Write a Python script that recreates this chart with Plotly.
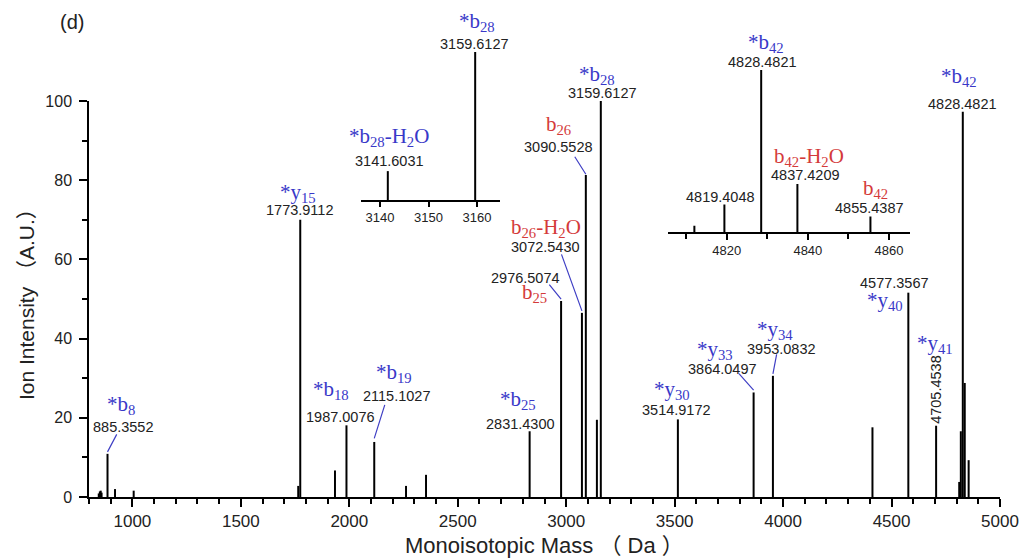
import plotly.graph_objects as go

# ---------------- data ----------------
peak_mass = [845.0, 850.0, 854.0, 858.0, 885.3552, 920.0, 1006.0, 1764.6, 1773.9112,
             1934.0, 1987.0076, 2115.1027, 2261.6, 2353.8, 2831.4300, 2976.5074,
             3072.5430, 3090.5528, 3141.6031, 3159.6127, 3514.9172, 3864.0497,
             3953.0832, 4412.0, 4577.3567, 4705.4538, 4812.0, 4819.4048, 4828.4821,
             4837.4209, 4855.4387]
peak_intensity = [0.9, 1.4, 1.6, 1.1, 10.9, 2.0, 1.6, 2.8, 70.0,
                  6.7, 18.1, 13.9, 2.8, 5.6, 16.6, 49.5,
                  46.5, 81.3, 19.5, 100.0, 19.6, 26.4,
                  30.6, 17.6, 51.6, 18.0, 3.8, 16.6, 97.3,
                  28.8, 9.3]

x_ticks_main = [1000, 1500, 2000, 2500, 3000, 3500, 4000, 4500, 5000]
y_ticks_main = [0, 20, 40, 60, 80, 100]
x_ticks_inset1 = [3140, 3150, 3160]
x_ticks_inset2 = [4820, 4840, 4860]

# labelled peaks
label_mass = [885.3552, 1773.9112, 1987.0076, 2115.1027, 2831.4300, 2976.5074,
              3072.5430, 3090.5528, 3159.6127, 3514.9172, 3864.0497, 3953.0832,
              4577.3567, 4705.4538, 4828.4821]
label_ion = ["*b<sub>8</sub>", "*y<sub>15</sub>", "*b<sub>18</sub>", "*b<sub>19</sub>",
             "*b<sub>25</sub>", "b<sub>25</sub>", "b<sub>26</sub>-H<sub>2</sub>O",
             "b<sub>26</sub>", "*b<sub>28</sub>", "*y<sub>30</sub>", "*y<sub>33</sub>",
             "*y<sub>34</sub>", "*y<sub>40</sub>", "*y<sub>41</sub>", "*b<sub>42</sub>"]
label_kind = ["b", "b", "b", "b", "b", "r", "r", "r", "b", "b", "b", "b", "b", "b", "b"]
label_text = ["885.3552", "1773.9112", "1987.0076", "2115.1027", "2831.4300", "2976.5074",
              "3072.5430", "3090.5528", "3159.6127", "3514.9172", "3864.0497", "3953.0832",
              "4577.3567", "4705.4538", "4828.4821"]

inset1_mass = [3141.6031, 3159.6127]
inset1_ion = ["*b<sub>28</sub>-H<sub>2</sub>O", "*b<sub>28</sub>"]
inset1_kind = ["b", "b"]
inset1_text = ["3141.6031", "3159.6127"]

inset2_mass = [4819.4048, 4828.4821, 4837.4209, 4855.4387]
inset2_ion = ["", "*b<sub>42</sub>", "b<sub>42</sub>-H<sub>2</sub>O", "b<sub>42</sub>"]
inset2_kind = ["b", "b", "r", "r"]
inset2_text = ["4819.4048", "4828.4821", "4837.4209", "4855.4387"]

# ---------------- layout / style (pixel offsets of labels from peak tops) ----------------
main_offsets = [  # (ion dx, ion dy, mass dx, mass dy)
    (13, 49, 15, 27), (-2, 27, -1, 10), (-15, 35, -6, 8), (20, 69, 22, 46),
    (-12, 31, -9, 7), (-27, 8, -36, 23), (-36, 85, -36, 66), (-27, 50, -27, 28),
    (-4, 26, 2, 8), (-6, 29, -1, 9), (-39, 42, -31, 23), (2, 46, 9, 27),
    (-23, -8, -14, 10), (-1, 82, 0, 36), (-4, 35, 0, 8)]
inset1_offsets = [(1, 34, 2, 10), (2, 30, -1, 8)]
inset2_offsets = [(0, 0, -4, 7), (5, 27, 1, 8), (12, 27, 8, 9), (5, 28, -1, 9)]
# leader lines: (mass, dy in data units, ax, ay)
leaders = [(885.3552, 0.5, 10, -19), (2115.1027, 0.9, 11, -35), (2976.5074, 0.5, -13, -16),
           (3072.5430, 0.5, -21, -58), (3090.5528, 0.2, -12, -19), (3864.0497, 0.6, -16, -18),
           (3953.0832, 0.5, 4, -21)]

BLUE = "#3838c8"
RED = "#d43a3a"
LEAD = "#3f3fc4"
TXT = "#222222"
SANS = "Liberation Sans, Arial, Noto Sans CJK SC, sans-serif"
SERIF = "Liberation Serif, Times New Roman, serif"
COL = {"b": BLUE, "r": RED}

def stems(ms, vs):
    xs, ys = [], []
    for m, v in zip(ms, vs):
        xs += [m, m, None]
        ys += [0, v, None]
    return xs, ys

sx, sy = stems(peak_mass, peak_intensity)
inten = dict(zip(peak_mass, peak_intensity))

fig = go.Figure()
line = dict(color="black", width=2)
for xa, ya in (("x", "y"), ("x2", "y2"), ("x3", "y3")):
    fig.add_trace(go.Scatter(x=sx, y=sy, mode="lines", line=line, xaxis=xa, yaxis=ya,
                             hoverinfo="skip", showlegend=False))

ann = []

def add_labels(ms, ions, kinds, texts, offs, xr, yr, rot_idx=None):
    for i, (m, ion, k, t, o) in enumerate(zip(ms, ions, kinds, texts, offs)):
        v = inten[m]
        if ion:
            ann.append(dict(x=m, y=v, xref=xr, yref=yr, text=ion, showarrow=False,
                            xanchor="center", yanchor="middle", xshift=o[0], yshift=o[1],
                            font=dict(family=SERIF, size=21, color=COL[k])))
        a = dict(x=m, y=v, xref=xr, yref=yr, text=t, showarrow=False,
                 xanchor="center", yanchor="middle", xshift=o[2], yshift=o[3],
                 font=dict(family=SANS, size=14.5, color=TXT))
        if rot_idx is not None and i == rot_idx:
            a["textangle"] = -90
        ann.append(a)

add_labels(label_mass, label_ion, label_kind, label_text, main_offsets, "x", "y",
           rot_idx=label_mass.index(4705.4538))
add_labels(inset1_mass, inset1_ion, inset1_kind, inset1_text, inset1_offsets, "x2", "y2")
add_labels(inset2_mass, inset2_ion, inset2_kind, inset2_text, inset2_offsets, "x3", "y3")

for m, dv, ax, ay in leaders:
    ann.append(dict(x=m, y=inten[m] + dv, xref="x", yref="y", text="", showarrow=True,
                    arrowhead=0, arrowwidth=1.2, arrowcolor=LEAD, ax=ax, ay=ay,
                    standoff=0, startstandoff=0))

ann.append(dict(x=0.5, y=-0.099, xref="paper", yref="paper",
                text="Monoisotopic Mass （ Da ）",
                showarrow=False, xanchor="center", yanchor="middle",
                font=dict(family=SANS, size=22, color=TXT)))
ann.append(dict(x=-0.068, y=0.4066, xref="paper", yref="paper", text="Ion Intensity （A.U.）",
                showarrow=False, xanchor="center", yanchor="middle", textangle=-90,
                font=dict(family=SANS, size=21, color=TXT)))
ann.append(dict(x=-0.0187, y=0.975, xref="paper", yref="paper", text="(d)",
                showarrow=False, xanchor="center", yanchor="middle",
                font=dict(family=SANS, size=20, color=TXT)))

axis_common = dict(showline=True, linecolor="black", linewidth=1.5, ticks="outside",
                   tickcolor="black", tickwidth=1.5, showgrid=False, zeroline=False,
                   automargin=False)

fig.update_layout(
    width=1020, height=559,
    margin=dict(l=89, r=20, t=10, b=62, autoexpand=False),
    paper_bgcolor="white", plot_bgcolor="rgba(0,0,0,0)",
    showlegend=False,
    xaxis=dict(domain=[0, 1], range=[800, 5000], tickvals=x_ticks_main, ticklen=8,
               minor=dict(dtick=100, tick0=800, ticks="outside", ticklen=5, tickwidth=1.5,
                          tickcolor="black"),
               tickfont=dict(family=SANS, size=17, color=TXT), anchor="y", **axis_common),
    yaxis=dict(domain=[0, 0.8131], range=[0, 100], tickvals=y_ticks_main, ticklen=8,
               minor=dict(dtick=10, tick0=0, ticks="outside", ticklen=5, tickwidth=1.5,
                          tickcolor="black"),
               ticklabelstandoff=4,
               tickfont=dict(family=SANS, size=16, color=TXT), anchor="x", **axis_common),
    xaxis2=dict(domain=[0.2986, 0.4512], range=[3136.08, 3164.74], tickvals=x_ticks_inset1,
                ticklen=5, tickfont=dict(family=SANS, size=13, color=TXT), anchor="y2",
                **axis_common),
    yaxis2=dict(domain=[0.6099, 0.9138], range=[0, 100], visible=False, anchor="x2"),
    xaxis3=dict(domain=[0.6356, 0.9012], range=[4805.5, 4865.2], tickvals=x_ticks_inset2,
                ticklen=6,
                minor=dict(dtick=10, tick0=4810, ticks="outside", ticklen=5, tickwidth=1.5,
                           tickcolor="black"),
                tickfont=dict(family=SANS, size=13, color=TXT), anchor="y3", **axis_common),
    yaxis3=dict(domain=[0.5441, 0.8860], range=[0, 100], visible=False, anchor="x3"),
    annotations=ann,
)

fig.write_html("out.html")
